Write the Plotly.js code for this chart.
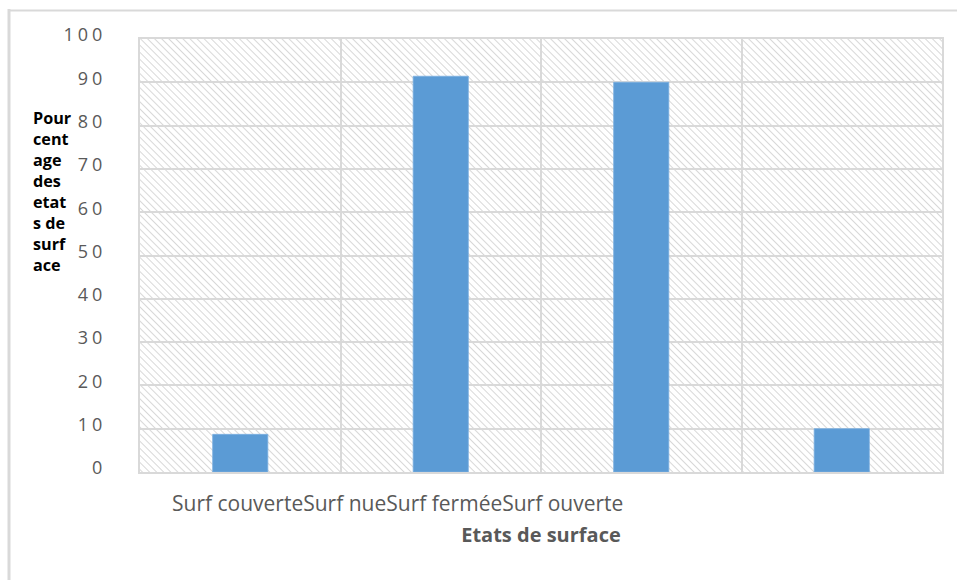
<!DOCTYPE html>
<html>
<head>
<meta charset="utf-8">
<script src="https://cdn.plot.ly/plotly-3.0.1.min.js"></script>
<style>
html,body{margin:0;padding:0;background:#fff;}
#chart{width:957px;height:580px;}
.ytick text{letter-spacing:4px;}
</style>
</head>
<body>
<div id="chart"></div>
<script>
// ---- data ----
const categories = ["Surf couverte", "Surf nue", "Surf fermée", "Surf ouverte"];
const values = [8.7, 91.4, 90.0, 10.0];
const yTickVals = [0, 10, 20, 30, 40, 50, 60, 70, 80, 90, 100];
const yTickText = ["0", "10", "20", "30", "40", "50", "60", "70", "80", "90", "100"];
const yTitleLines = ["Pour", "cent", "age", "des", "etat", "s de", "surf", "ace"];
const xTitle = "Etats de surface";

// hatch background for plot area
const hatchSvg = "<svg xmlns='http://www.w3.org/2000/svg' width='802' height='433'>" +
  "<defs><pattern id='p' width='5' height='5' patternUnits='userSpaceOnUse' patternTransform='rotate(-45)'>" +
  "<line x1='0' y1='0' x2='0' y2='5' stroke='#d4d4d4' stroke-width='1.8'/></pattern></defs>" +
  "<rect width='802' height='433' fill='#ffffff'/><rect width='802' height='433' fill='url(#p)'/></svg>";
const hatchUri = "data:image/svg+xml;charset=utf-8," + encodeURIComponent(hatchSvg);

const trace = {
  type: "bar",
  x: categories,
  y: values,
  width: 0.275,
  marker: {color: "#5b9bd5", line: {color: "#7aaee0", width: 0.8}},
  hoverinfo: "x+y"
};

const L = 140, R = 942, T = 39, B = 472, W = 957, H = 580;
const px = v => (v - L) / (R - L);
const py = v => (B - v) / (B - T);

const layout = {
  width: W, height: H,
  margin: {l: L, r: W - R, t: T, b: H - B},
  paper_bgcolor: "#ffffff",
  plot_bgcolor: "rgba(0,0,0,0)",
  showlegend: false,
  bargap: 0,
  font: {family: "Open Sans, Liberation Sans, sans-serif", color: "#595959"},
  xaxis: {
    type: "category",
    range: [-0.5, 3.5],
    tickson: "boundaries",
    showgrid: true,
    gridcolor: "#d9d9d9",
    gridwidth: 2,
    showline: true,
    mirror: true,
    linecolor: "#d9d9d9",
    linewidth: 2,
    showticklabels: false,
    ticks: "",
    fixedrange: true,
    title: {text: xTitle, font: {size: 20, color: "#595959", family: "Open Sans, sans-serif", weight: "bold"}, standoff: 55}
  },
  yaxis: {
    range: [0, 100],
    tickvals: yTickVals,
    ticktext: yTickText,
    showgrid: true,
    gridcolor: "#d9d9d9",
    gridwidth: 2,
    zeroline: false,
    showline: true,
    mirror: true,
    linecolor: "#d9d9d9",
    linewidth: 2,
    ticks: "",
    ticklabelstandoff: 28,
    ticklabelshift: -4,
    tickfont: {size: 18, color: "#595959"},
    fixedrange: true
  },
  images: [{
    source: hatchUri, xref: "paper", yref: "paper",
    x: 0, y: 1, sizex: 1, sizey: 1, sizing: "stretch",
    xanchor: "left", yanchor: "top", layer: "below"
  }],
  annotations: [
    {
      text: categories.join(""),
      xref: "paper", yref: "paper",
      x: px(170), y: py(503), xanchor: "left", yanchor: "middle",
      showarrow: false,
      font: {size: 21, color: "#595959"}
    },
    {
      text: yTitleLines.map(s => "<b>" + s + "</b>").join("<br>"),
      xref: "paper", yref: "paper",
      x: px(31), y: py(191.5), xanchor: "left", yanchor: "middle",
      align: "left",
      showarrow: false,
      font: {size: 16.2, color: "#000000"}
    }
  ],
  shapes: [
    {type: "line", xref: "paper", yref: "paper", x0: px(9), x1: px(9), y0: py(9), y1: py(600),
     line: {color: "#d9d9d9", width: 3}},
    {type: "line", xref: "paper", yref: "paper", x0: px(8), x1: px(980), y0: py(10.5), y1: py(10.5),
     line: {color: "#d9d9d9", width: 2}}
  ]
};

Plotly.newPlot("chart", [trace], layout, {displayModeBar: false, staticPlot: true});
</script>
</body>
</html>
